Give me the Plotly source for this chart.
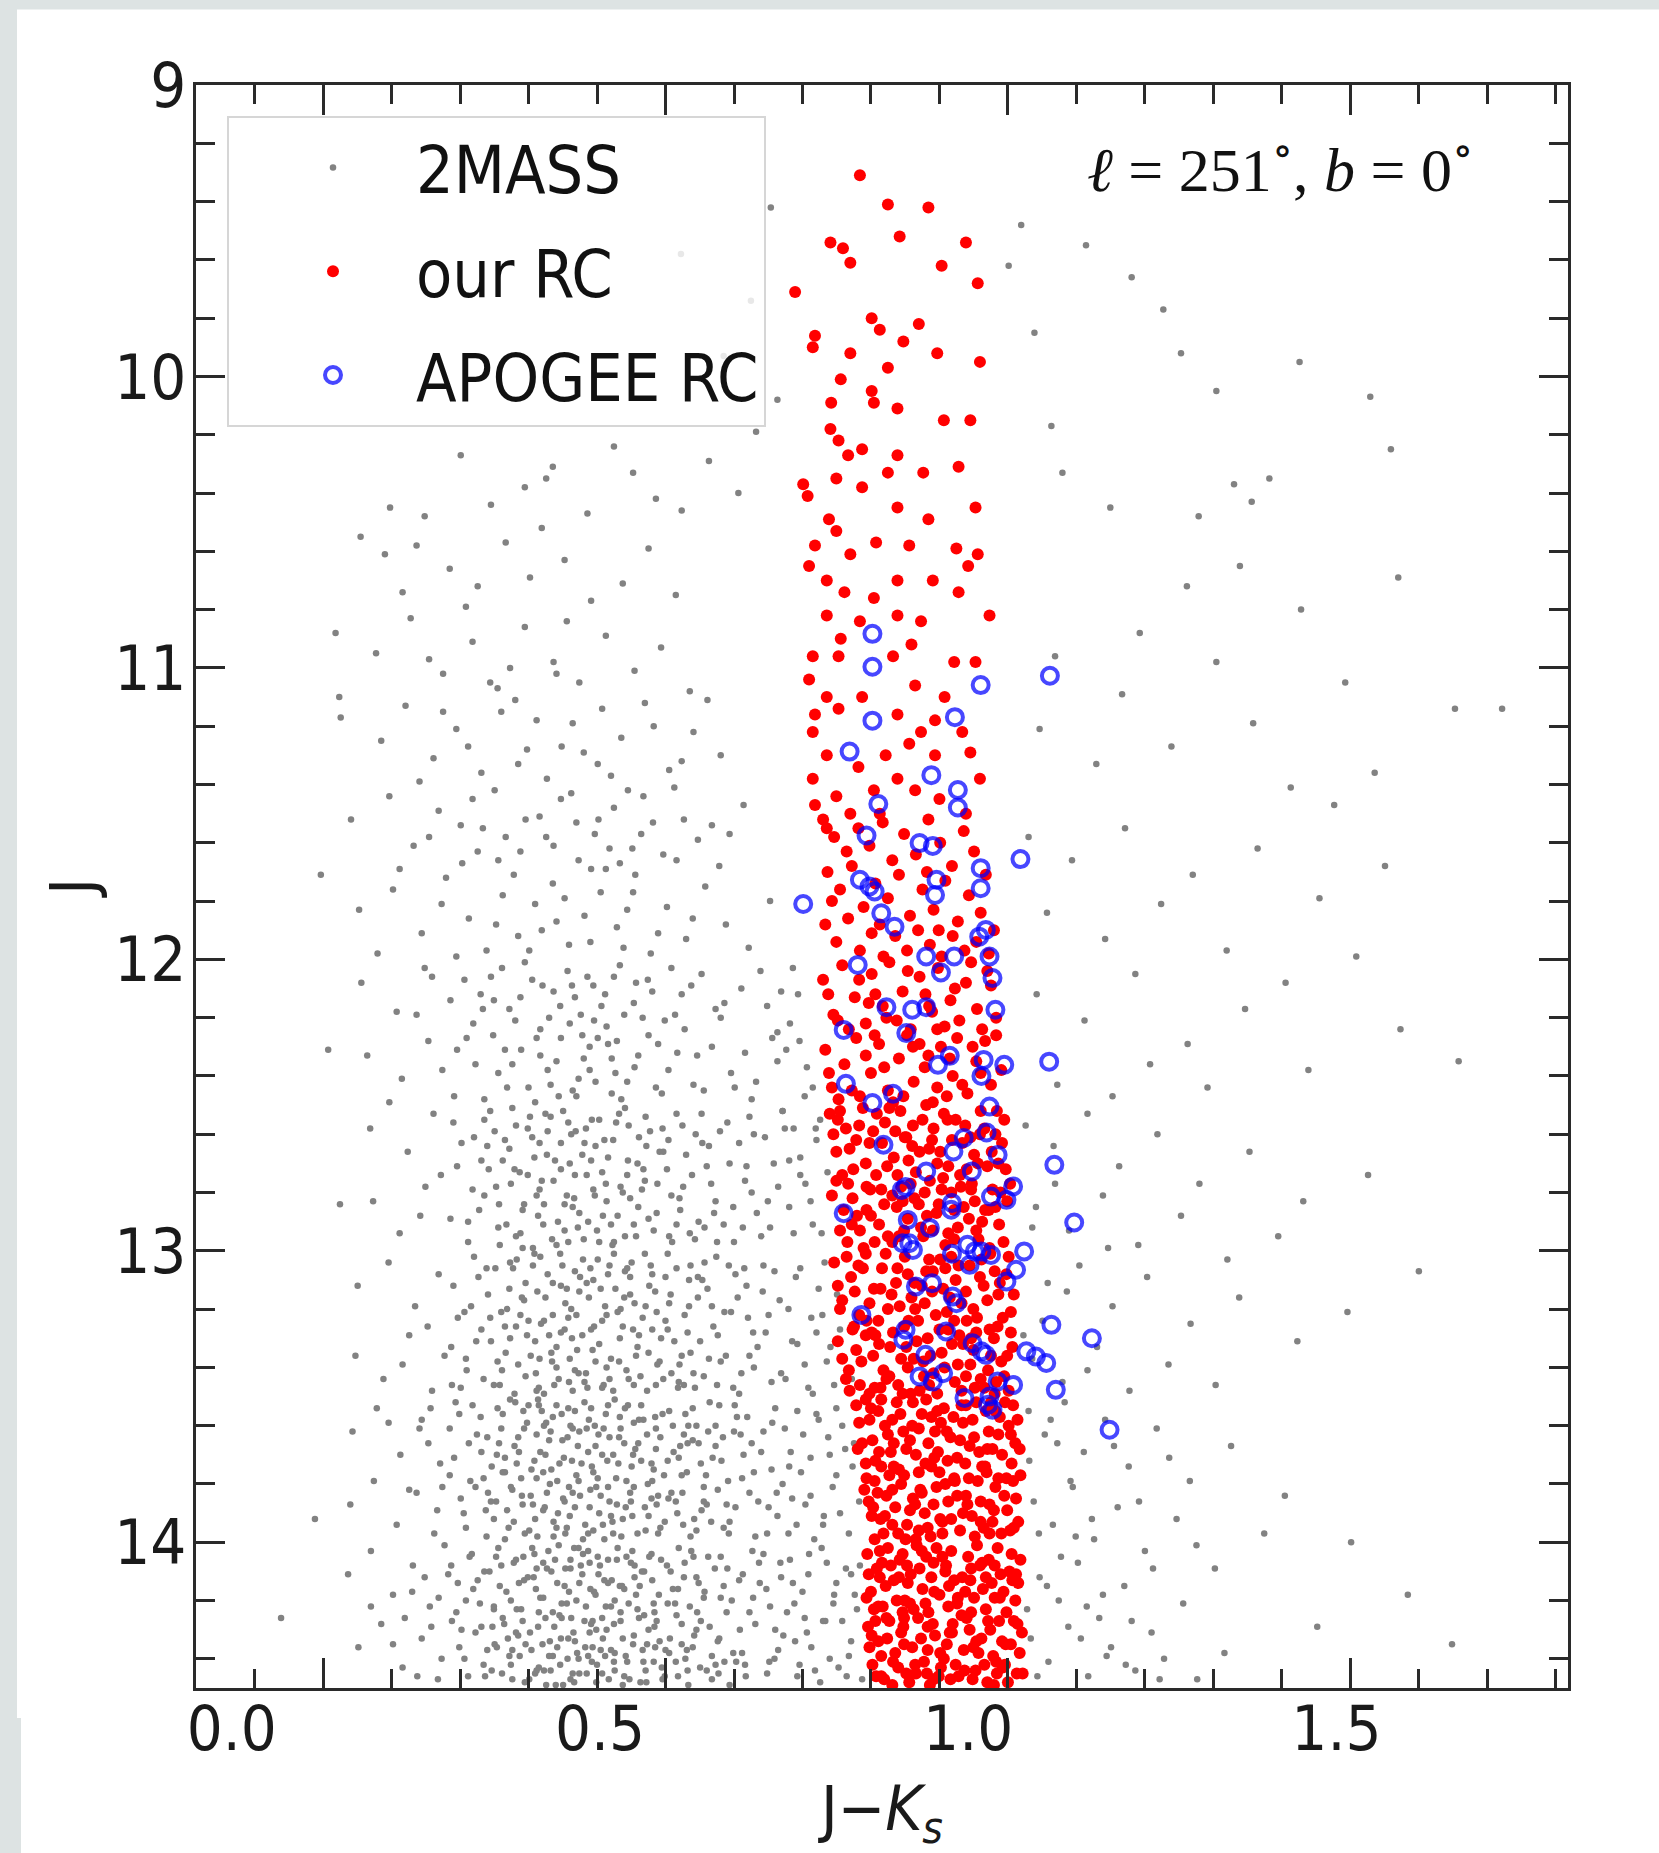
import plotly.graph_objects as go

# ---------------- data ----------------
# 2MASS field stars: (J-Ks, J)
GRAY_2MASS = [
    # upper, left of RC
    (0.215,10.45),(0.427,10.35),(0.436,10.31),(0.311,10.27),(0.519,10.24),(0.576,10.42),(0.648,10.29),
    (0.712,10.19),(0.262,10.48),(0.352,10.44),(0.398,10.38),(0.483,10.47),(0.545,10.33),(0.611,10.46),
    (0.688,10.40),(0.741,10.08),(0.668,9.93),(0.705,9.74),(0.732,9.42),(0.61,9.58),
    # upper right
    (1.072,9.48),(1.222,9.66),(1.265,9.77),(1.289,9.92),(1.337,10.05),(1.409,10.35),(1.546,10.07),
    (1.574,10.25),(1.128,10.33),(1.193,10.45),(1.113,10.17),(1.361,10.37),(1.385,10.43),(1.313,10.48),
    (1.055,9.62),(1.09,9.85),(1.16,9.55),(1.45,9.95),
    # 10.5 - 11.1
    (0.175,10.55),(0.208,10.61),(0.251,10.58),(0.296,10.66),(0.334,10.72),(0.372,10.57),(0.405,10.69),
    (0.452,10.63),(0.488,10.77),(0.531,10.71),(0.566,10.59),(0.603,10.75),(0.232,10.74),(0.318,10.79),
    (0.421,10.52),
    (0.141,10.88),(0.196,10.95),(0.243,10.83),(0.287,11.02),(0.327,10.91),(0.361,11.07),(0.398,10.86),
    (0.437,10.98),(0.472,11.05),(0.508,10.89),(0.547,11.01),(0.583,10.93),(0.622,11.08),(0.268,10.97),
    (0.455,10.84),(0.378,11.0),
    # 11.0 - 11.7
    (0.148,11.17),(0.203,11.25),(0.236,11.13),(0.274,11.31),(0.305,11.21),(0.339,11.36),(0.366,11.15),
    (0.401,11.28),(0.428,11.38),(0.463,11.19),(0.497,11.33),(0.529,11.24),(0.561,11.12),(0.594,11.35),
    (0.627,11.22),(0.664,11.3),(0.255,11.39),(0.385,11.11),(0.515,11.37),(0.448,11.27),
    (0.162,11.52),(0.214,11.44),(0.247,11.61),(0.281,11.49),(0.313,11.67),(0.341,11.55),(0.357,11.42),
    (0.392,11.63),(0.418,11.51),(0.447,11.45),(0.471,11.66),(0.493,11.57),(0.519,11.48),(0.544,11.62),
    (0.572,11.53),(0.601,11.41),(0.633,11.59),(0.662,11.68),(0.695,11.47),(0.228,11.69),(0.372,11.58),
    (0.508,11.69),(0.586,11.64),
    (0.287,11.15),(0.321,11.27),(0.351,11.05),(0.389,11.33),(0.414,11.18),(0.441,11.02),(0.478,11.29),
    (0.503,11.14),(0.538,11.42),(0.573,11.2),(0.611,11.32),(0.646,11.11),(0.268,11.58),(0.327,11.45),
    (0.362,11.66),(0.399,11.52),(0.437,11.61),(0.461,11.43),(0.498,11.52),(0.527,11.67),(0.559,11.44),
    (0.614,11.52),(0.676,11.57),
    # 11.7 - 12.0
    (0.173,11.83),(0.219,11.76),(0.258,11.91),(0.291,11.72),(0.322,11.86),(0.346,11.97),(0.368,11.78),
    (0.389,11.92),(0.412,11.81),(0.436,11.74),(0.458,11.95),(0.479,11.85),(0.501,11.77),(0.523,11.89),
    (0.548,11.71),(0.569,11.98),(0.591,11.82),(0.617,11.93),(0.643,11.75),(0.671,11.88),(0.702,11.96),
    (0.731,11.8),(0.305,11.99),(0.441,11.87),(0.532,11.96),
    (0.334,11.63),(0.359,11.88),(0.383,11.71),(0.404,11.97),(0.427,11.58),(0.452,11.79),(0.468,11.53),
    (0.487,11.94),(0.513,11.62),(0.537,11.83),(0.556,11.57),(0.579,11.91),(0.604,11.66),(0.626,11.86),
    (0.652,11.54),(0.285,11.81),(0.311,11.54),(0.488,11.69),(0.545,11.77),(0.421,11.9),(0.198,11.98),
    # 12.0 - 12.5
    (0.176,12.08),(0.224,12.18),(0.262,12.03),(0.297,12.14),(0.328,12.22),(0.352,12.06),(0.377,12.17),
    (0.398,12.01),(0.419,12.24),(0.437,12.11),(0.456,12.04),(0.474,12.19),(0.491,12.09),(0.509,12.23),
    (0.527,12.02),(0.546,12.15),(0.565,12.07),(0.588,12.21),(0.611,12.12),(0.638,12.05),(0.664,12.2),
    (0.692,12.1),(0.727,12.16),(0.762,12.03),(0.316,12.07),(0.466,12.13),(0.502,12.16),(0.758,12.22),
    (0.184,12.33),(0.231,12.41),(0.267,12.28),(0.302,12.47),(0.331,12.36),(0.355,12.26),(0.374,12.44),
    (0.393,12.31),(0.412,12.49),(0.429,12.38),(0.447,12.27),(0.463,12.45),(0.478,12.34),(0.494,12.42),
    (0.511,12.29),(0.529,12.48),(0.547,12.37),(0.566,12.26),(0.584,12.46),(0.605,12.32),(0.627,12.43),
    (0.652,12.3),(0.678,12.39),(0.706,12.48),(0.741,12.35),(0.771,12.28),(0.789,12.44),(0.486,12.3),
    (0.521,12.39),(0.343,12.48),(0.419,12.33),
    (0.319,12.27),(0.338,12.12),(0.362,12.39),(0.385,12.21),(0.403,12.44),(0.422,12.09),(0.441,12.35),
    (0.459,12.22),(0.471,12.41),(0.483,12.06),(0.497,12.27),(0.516,12.46),(0.533,12.19),(0.552,12.33),
    (0.571,12.11),(0.593,12.38),(0.615,12.24),(0.641,12.45),(0.669,12.15),(0.697,12.32),(0.718,12.04),
    (0.734,12.27),(0.286,12.38),(0.251,12.19),(0.444,12.47),(0.507,12.12),(0.537,12.42),(0.579,12.29),
    (0.624,12.09),(0.476,12.26),(0.392,12.13),(0.431,12.2),(0.516,12.34),(0.683,12.44),(0.367,12.03),
    (0.272,12.06),(0.306,12.31),(0.341,12.17),(0.371,12.31),(0.408,12.07),(0.433,12.43),(0.462,12.09),
    (0.486,12.38),(0.519,12.06),(0.558,12.2),(0.597,12.03),(0.632,12.33),(0.657,12.17),(0.712,12.42),
    (0.746,12.11),(0.214,12.49),
    (0.356,12.14),(0.381,12.36),(0.414,12.27),(0.446,12.16),(0.468,12.47),(0.492,12.21),(0.523,12.28),
    (0.549,12.08),(0.576,12.44),(0.602,12.19),
    # 12.5 - 13.0
    (0.188,12.58),(0.239,12.66),(0.274,12.53),(0.306,12.71),(0.329,12.61),(0.351,12.52),(0.368,12.69),
    (0.386,12.57),(0.402,12.74),(0.418,12.63),(0.433,12.54),(0.447,12.72),(0.461,12.6),(0.476,12.67),
    (0.489,12.55),(0.503,12.73),(0.518,12.62),(0.534,12.51),(0.551,12.7),(0.568,12.59),(0.586,12.66),
    (0.604,12.53),(0.625,12.74),(0.648,12.64),(0.673,12.56),(0.699,12.71),(0.724,12.61),(0.748,12.52),
    (0.772,12.68),(0.793,12.58),(0.809,12.73),(0.457,12.56),(0.494,12.64),(0.411,12.68),(0.538,12.69),
    (0.381,12.51),
    (0.192,12.83),(0.228,12.94),(0.263,12.78),(0.297,12.89),(0.321,12.97),(0.343,12.81),(0.362,12.92),
    (0.379,12.77),(0.395,12.86),(0.409,12.99),(0.424,12.84),(0.437,12.76),(0.452,12.93),(0.465,12.82),
    (0.478,12.96),(0.491,12.79),(0.504,12.88),(0.517,12.98),(0.531,12.8),(0.546,12.91),(0.561,12.76),
    (0.577,12.87),(0.594,12.95),(0.613,12.78),(0.634,12.9),(0.657,12.83),(0.682,12.97),(0.706,12.8),
    (0.731,12.92),(0.757,12.85),(0.779,12.77),(0.801,12.94),(0.443,12.9),(0.472,12.87),(0.509,12.83),
    (0.386,12.95),(0.552,12.85),(0.418,12.79),
    (0.312,12.63),(0.336,12.86),(0.357,12.59),(0.373,12.91),(0.391,12.73),(0.405,12.54),(0.416,12.88),
    (0.428,12.67),(0.441,12.98),(0.455,12.81),(0.467,12.59),(0.482,12.74),(0.496,12.93),(0.511,12.68),
    (0.524,12.88),(0.539,12.57),(0.557,12.79),(0.573,12.93),(0.591,12.72),(0.609,12.86),(0.63,12.6),
    (0.651,12.77),(0.668,12.91),(0.689,12.63),(0.713,12.87),(0.736,12.7),(0.763,12.94),(0.284,12.74),
    (0.256,12.88),(0.349,12.72),(0.426,12.53),(0.463,12.85),(0.499,12.55),(0.528,12.78),(0.563,12.64),
    (0.598,12.97),(0.617,12.67),(0.642,12.92),(0.395,12.99),(0.371,12.62),(0.447,12.63),(0.484,12.9),
    (0.519,12.97),(0.585,12.58),(0.703,12.54),
    (0.343,12.55),(0.359,12.78),(0.377,12.65),(0.392,12.94),(0.408,12.61),(0.421,12.76),(0.435,12.96),
    (0.45,12.52),(0.459,12.7),(0.47,12.92),(0.481,12.58),(0.493,12.81),(0.506,12.62),(0.515,12.91),
    (0.526,12.53),(0.541,12.82),(0.553,12.61),(0.566,12.89),(0.581,12.66),(0.597,12.81),(0.612,12.57),
    (0.629,12.96),(0.645,12.71),(0.663,12.59),(0.681,12.85),(0.697,12.76),(0.719,12.95),(0.327,12.79),
    (0.301,12.56),(0.364,12.98),(0.397,12.84),(0.429,12.59),(0.457,12.97),(0.488,12.69),(0.534,12.95),
    (0.559,12.72),(0.604,12.91),(0.638,12.53),(0.659,12.97),(0.742,12.78),
    (0.347,12.64),(0.363,12.84),(0.384,12.72),(0.402,12.58),(0.423,12.91),(0.439,12.69),(0.452,12.84),
    (0.466,12.74),(0.479,12.63),(0.499,12.97),(0.508,12.77),(0.522,12.56),(0.537,12.74),(0.549,12.95),
    (0.562,12.54),(0.578,12.77),(0.593,12.62),(0.608,12.82),(0.622,12.94),(0.639,12.63),(0.655,12.87),
    (0.676,12.7),(0.694,12.92),(0.709,12.6),(0.728,12.83),(0.751,12.58),(0.789,12.91),(0.321,12.9),
    (0.339,12.69),(0.414,12.81),
    # 13.0 - 13.5
    (0.171,13.12),(0.213,13.04),(0.249,13.19),(0.281,13.08),(0.307,13.23),(0.329,13.02),(0.348,13.15),
    (0.366,13.21),(0.382,13.06),(0.397,13.17),(0.411,13.01),(0.424,13.24),(0.436,13.11),(0.449,13.05),
    (0.461,13.2),(0.473,13.09),(0.485,13.16),(0.497,13.03),(0.509,13.22),(0.521,13.13),(0.534,13.07),
    (0.547,13.18),(0.561,13.01),(0.575,13.14),(0.589,13.24),(0.604,13.06),(0.621,13.19),(0.639,13.1),
    (0.658,13.02),(0.678,13.21),(0.699,13.12),(0.722,13.05),(0.744,13.17),(0.766,13.09),(0.787,13.23),
    (0.805,13.04),(0.822,13.15),(0.415,13.14),(0.455,13.13),(0.491,13.1),(0.528,13.2),(0.571,13.08),
    (0.392,13.22),(0.633,13.16),
    (0.168,13.36),(0.206,13.44),(0.241,13.29),(0.272,13.48),(0.298,13.33),(0.319,13.41),(0.339,13.27),
    (0.356,13.46),(0.372,13.35),(0.386,13.26),(0.399,13.43),(0.412,13.31),(0.424,13.49),(0.435,13.38),
    (0.447,13.28),(0.458,13.45),(0.469,13.34),(0.481,13.42),(0.492,13.26),(0.503,13.47),(0.515,13.37),
    (0.527,13.3),(0.539,13.44),(0.551,13.33),(0.564,13.48),(0.578,13.39),(0.592,13.27),(0.607,13.45),
    (0.623,13.35),(0.641,13.43),(0.66,13.29),(0.681,13.47),(0.703,13.36),(0.725,13.28),(0.746,13.42),
    (0.768,13.32),(0.789,13.49),(0.808,13.38),(0.826,13.27),(0.842,13.44),(0.441,13.4),(0.476,13.29),
    (0.509,13.4),(0.545,13.27),(0.586,13.44),(0.367,13.41),(0.418,13.37),(0.463,13.48),
    (0.301,13.12),(0.318,13.37),(0.335,13.09),(0.352,13.31),(0.364,13.46),(0.377,13.13),(0.389,13.39),
    (0.403,13.24),(0.417,13.47),(0.429,13.08),(0.441,13.33),(0.453,13.18),(0.466,13.41),(0.477,13.03),
    (0.488,13.27),(0.501,13.13),(0.513,13.44),(0.524,13.21),(0.537,13.06),(0.549,13.36),(0.562,13.19),
    (0.576,13.46),(0.589,13.09),(0.601,13.31),(0.615,13.22),(0.629,13.47),(0.646,13.13),(0.664,13.38),
    (0.684,13.08),(0.708,13.28),(0.733,13.45),(0.756,13.2),(0.778,13.39),(0.797,13.13),(0.813,13.33),
    (0.266,13.26),(0.232,13.39),(0.378,13.3),(0.409,13.05),(0.436,13.22),(0.462,13.3),(0.494,13.38),
    (0.519,13.01),(0.541,13.15),(0.566,13.35),(0.597,13.42),(0.623,13.05),(0.654,13.26),(0.692,13.42),
    (0.721,13.14),(0.483,13.47),(0.444,13.44),(0.399,13.11),(0.555,13.43),(0.611,13.36),
    (0.325,13.19),(0.342,13.44),(0.358,13.06),(0.371,13.26),(0.384,13.49),(0.394,13.16),(0.406,13.36),
    (0.419,13.02),(0.431,13.29),(0.438,13.46),(0.447,13.12),(0.459,13.37),(0.468,13.22),(0.479,13.45),
    (0.487,13.06),(0.499,13.32),(0.507,13.19),(0.518,13.48),(0.531,13.26),(0.543,13.04),(0.553,13.29),
    (0.567,13.12),(0.581,13.38),(0.594,13.18),(0.606,13.47),(0.619,13.28),(0.633,13.09),(0.648,13.37),
    (0.669,13.21),(0.689,13.49),(0.714,13.33),(0.737,13.07),(0.761,13.31),(0.783,13.47),(0.802,13.22),
    (0.289,13.36),(0.311,13.47),(0.351,13.23),(0.378,13.04),(0.413,13.42),(0.452,13.27),(0.472,13.14),
    (0.511,13.08),(0.536,13.41),(0.571,13.27),(0.592,13.01),(0.627,13.42),(0.675,13.05),(0.701,13.23),
    (0.659,13.46),
    (0.332,13.31),(0.346,13.06),(0.361,13.38),(0.374,13.2),(0.387,13.03),(0.401,13.29),(0.414,13.48),
    (0.426,13.16),(0.434,13.35),(0.446,13.01),(0.457,13.23),(0.471,13.42),(0.482,13.11),(0.49,13.34),
    (0.503,13.24),(0.513,13.05),(0.526,13.38),(0.533,13.16),(0.546,13.46),(0.558,13.23),(0.569,13.05),
    (0.583,13.3),(0.596,13.15),(0.608,13.39),(0.621,13.1),(0.636,13.31),(0.652,13.19),(0.671,13.36),
    (0.687,13.16),(0.709,13.4),(0.729,13.22),(0.752,13.44),(0.772,13.06),(0.794,13.28),(0.316,13.21),
    (0.299,13.46),(0.42,13.25),(0.466,13.07),(0.505,13.46),(0.541,13.09),(0.577,13.21),(0.614,13.46),
    (0.642,13.04),(0.696,13.06),(0.818,13.46),
    # 13.5 - 14.0
    (0.164,13.62),(0.197,13.54),(0.229,13.7),(0.258,13.58),(0.283,13.73),(0.304,13.52),(0.322,13.66),
    (0.338,13.57),(0.353,13.74),(0.366,13.61),(0.378,13.51),(0.39,13.69),(0.401,13.59),(0.411,13.72),
    (0.421,13.55),(0.431,13.65),(0.441,13.53),(0.451,13.71),(0.46,13.6),(0.47,13.67),(0.479,13.52),
    (0.489,13.74),(0.498,13.63),(0.508,13.56),(0.518,13.7),(0.528,13.61),(0.538,13.53),(0.548,13.68),
    (0.559,13.58),(0.57,13.73),(0.582,13.64),(0.594,13.55),(0.607,13.71),(0.62,13.6),(0.634,13.66),
    (0.649,13.52),(0.665,13.72),(0.682,13.62),(0.7,13.57),(0.719,13.69),(0.738,13.54),(0.757,13.74),
    (0.776,13.63),(0.794,13.56),(0.812,13.7),(0.829,13.6),(0.845,13.66),(0.396,13.55),(0.426,13.7),
    (0.456,13.64),(0.485,13.58),(0.513,13.64),(0.543,13.74),(0.575,13.57),(0.614,13.63),(0.657,13.6),
    (0.347,13.64),(0.371,13.71),
    (0.161,13.87),(0.193,13.79),(0.224,13.94),(0.251,13.83),(0.275,13.97),(0.296,13.77),(0.315,13.9),
    (0.331,13.81),(0.346,13.98),(0.359,13.86),(0.371,13.76),(0.383,13.93),(0.394,13.84),(0.404,13.96),
    (0.414,13.78),(0.423,13.89),(0.432,13.8),(0.441,13.95),(0.45,13.85),(0.459,13.91),(0.468,13.77),
    (0.477,13.99),(0.486,13.88),(0.495,13.81),(0.504,13.94),(0.513,13.86),(0.522,13.78),(0.531,13.92),
    (0.541,13.83),(0.551,13.97),(0.561,13.88),(0.571,13.79),(0.582,13.95),(0.593,13.85),(0.605,13.9),
    (0.618,13.76),(0.631,13.96),(0.645,13.87),(0.66,13.82),(0.676,13.93),(0.693,13.78),(0.711,13.98),
    (0.729,13.88),(0.748,13.8),(0.767,13.94),(0.786,13.84),(0.804,13.91),(0.821,13.77),(0.838,13.97),
    (0.852,13.86),(0.409,13.87),(0.437,13.98),(0.463,13.83),(0.491,13.76),(0.518,13.97),(0.546,13.81),
    (0.577,13.87),(0.612,13.83),(0.638,13.89),(0.381,13.82),(0.499,13.9),
    (0.296,13.61),(0.311,13.85),(0.327,13.53),(0.342,13.78),(0.356,13.92),(0.368,13.56),(0.379,13.81),
    (0.389,13.64),(0.398,13.97),(0.407,13.75),(0.416,13.51),(0.425,13.88),(0.433,13.62),(0.442,13.79),
    (0.448,13.56),(0.455,13.95),(0.462,13.72),(0.473,13.84),(0.482,13.61),(0.491,13.96),(0.503,13.7),
    (0.511,13.53),(0.523,13.87),(0.533,13.66),(0.544,13.91),(0.553,13.58),(0.565,13.8),(0.576,13.68),
    (0.588,13.93),(0.599,13.6),(0.611,13.77),(0.626,13.54),(0.641,13.86),(0.653,13.71),(0.668,13.95),
    (0.686,13.57),(0.703,13.83),(0.722,13.62),(0.741,13.91),(0.759,13.69),(0.779,13.87),(0.797,13.58),
    (0.816,13.81),(0.833,13.68),(0.267,13.66),(0.241,13.82),(0.213,13.59),(0.36,13.7),(0.385,13.52),
    (0.414,13.63),(0.437,13.93),(0.466,13.55),(0.487,13.82),(0.506,13.99),(0.527,13.57),(0.556,13.72),
    (0.579,13.97),(0.603,13.86),(0.619,13.66),(0.647,13.62),(0.674,13.79),(0.695,13.7),(0.733,13.75),
    (0.768,13.55),(0.803,13.94),(0.345,13.89),(0.371,13.99),(0.423,13.76),(0.452,13.86),(0.494,13.67),
    (0.536,13.79),(0.564,13.63),(0.592,13.72),(0.628,13.92),(0.662,13.53),
    (0.302,13.71),(0.318,13.95),(0.333,13.63),(0.348,13.83),(0.361,13.54),(0.374,13.89),(0.384,13.67),
    (0.393,13.78),(0.403,13.53),(0.412,13.92),(0.419,13.69),(0.428,13.83),(0.436,13.57),(0.445,13.73),
    (0.453,13.97),(0.463,13.61),(0.471,13.79),(0.48,13.94),(0.488,13.54),(0.497,13.78),(0.505,13.61),
    (0.515,13.91),(0.525,13.73),(0.534,13.54),(0.542,13.86),(0.552,13.66),(0.562,13.96),(0.573,13.75),
    (0.585,13.56),(0.597,13.83),(0.609,13.67),(0.623,13.98),(0.637,13.73),(0.651,13.93),(0.667,13.64),
    (0.684,13.88),(0.706,13.66),(0.727,13.97),(0.751,13.61),(0.773,13.76),(0.791,13.99),(0.81,13.64),
    (0.826,13.9),(0.843,13.74),(0.279,13.89),(0.255,13.61),(0.368,13.76),(0.395,13.87),(0.427,13.59),
    (0.458,13.81),(0.484,13.69),(0.511,13.81),(0.546,13.59),(0.579,13.84),(0.616,13.56),(0.644,13.77),
    (0.675,13.97),(0.715,13.86),(0.761,13.85),(0.52,13.51),
    (0.309,13.56),(0.324,13.79),(0.339,13.69),(0.352,13.86),(0.363,13.66),(0.376,13.95),(0.387,13.73),
    (0.397,13.61),(0.406,13.84),(0.415,13.98),(0.424,13.6),(0.434,13.75),(0.443,13.9),(0.449,13.65),
    (0.457,13.54),(0.466,13.88),(0.475,13.73),(0.484,13.97),(0.493,13.6),(0.501,13.84),(0.51,13.72),
    (0.517,13.93),(0.526,13.64),(0.535,13.88),(0.545,13.7),(0.556,13.53),(0.566,13.91),(0.576,13.61),
    (0.587,13.77),(0.6,13.69),(0.613,13.94),(0.626,13.65),(0.641,13.81),(0.657,13.67),(0.672,13.87),
    (0.691,13.63),(0.709,13.76),(0.734,13.59),(0.756,13.97),(0.786,13.71),(0.821,13.54),(0.286,13.81),
    (0.27,13.54),(0.417,13.53),(0.472,13.62),(0.529,13.98),(0.57,13.85),(0.631,13.6),(0.683,13.53),
    (0.74,13.83),
    # 14.0 - 14.5
    (0.158,14.11),(0.189,14.03),(0.219,14.18),(0.246,14.08),(0.269,14.22),(0.289,14.01),(0.307,14.14),
    (0.323,14.05),(0.337,14.21),(0.35,14.1),(0.362,14.02),(0.373,14.17),(0.383,14.07),(0.393,14.23),
    (0.402,14.12),(0.411,14.04),(0.419,14.19),(0.428,14.09),(0.436,14.24),(0.444,14.01),(0.452,14.15),
    (0.46,14.06),(0.468,14.2),(0.476,14.11),(0.484,14.03),(0.492,14.17),(0.5,14.08),(0.508,14.22),
    (0.516,14.13),(0.524,14.02),(0.533,14.16),(0.542,14.07),(0.551,14.23),(0.56,14.1),(0.57,14.04),
    (0.58,14.18),(0.591,14.08),(0.602,14.21),(0.614,14.12),(0.627,14.05),(0.641,14.19),(0.656,14.09),
    (0.672,14.24),(0.689,14.13),(0.707,14.03),(0.726,14.16),(0.745,14.07),(0.764,14.21),(0.783,14.11),
    (0.801,14.02),(0.818,14.18),(0.834,14.09),(0.849,14.23),(0.397,14.13),(0.423,14.07),(0.448,14.21),
    (0.472,14.14),(0.497,14.05),(0.52,14.2),(0.547,14.12),(0.574,14.24),(0.607,14.02),(0.634,14.14),
    (0.664,14.05),(0.356,14.23),(0.465,14.02),
    (0.172,14.36),(0.203,14.28),(0.232,14.43),(0.258,14.33),(0.28,14.47),(0.299,14.27),(0.316,14.4),
    (0.331,14.31),(0.344,14.46),(0.357,14.35),(0.368,14.26),(0.379,14.42),(0.389,14.32),(0.398,14.48),
    (0.407,14.37),(0.416,14.29),(0.424,14.44),(0.432,14.34),(0.44,14.49),(0.448,14.26),(0.456,14.4),
    (0.464,14.31),(0.472,14.45),(0.48,14.36),(0.488,14.28),(0.496,14.42),(0.504,14.33),(0.512,14.47),
    (0.52,14.38),(0.528,14.27),(0.537,14.41),(0.546,14.32),(0.555,14.48),(0.564,14.35),(0.574,14.29),
    (0.584,14.43),(0.595,14.33),(0.606,14.46),(0.618,14.37),(0.631,14.3),(0.645,14.44),(0.66,14.34),
    (0.676,14.49),(0.693,14.38),(0.711,14.28),(0.73,14.41),(0.749,14.32),(0.768,14.46),(0.787,14.36),
    (0.806,14.27),(0.824,14.43),(0.841,14.34),(0.856,14.47),(0.412,14.45),(0.436,14.39),(0.46,14.47),
    (0.484,14.39),(0.509,14.3),(0.533,14.46),(0.559,14.41),(0.589,14.37),(0.62,14.49),(0.652,14.39),
    (0.381,14.37),(0.501,14.37),
    (0.294,14.11),(0.309,14.36),(0.326,14.04),(0.339,14.29),(0.353,14.44),(0.364,14.15),(0.375,14.33),
    (0.386,14.06),(0.395,14.27),(0.404,14.47),(0.413,14.16),(0.422,14.35),(0.43,14.03),(0.438,14.29),
    (0.446,14.42),(0.453,14.09),(0.461,14.26),(0.469,14.38),(0.477,14.04),(0.486,14.31),(0.494,14.18),
    (0.503,14.45),(0.511,14.06),(0.519,14.28),(0.527,14.15),(0.535,14.39),(0.544,14.03),(0.553,14.26),
    (0.562,14.44),(0.571,14.13),(0.581,14.34),(0.592,14.21),(0.603,14.41),(0.615,14.07),(0.628,14.32),
    (0.642,14.17),(0.657,14.42),(0.673,14.09),(0.69,14.3),(0.708,14.19),(0.727,14.45),(0.746,14.12),
    (0.765,14.34),(0.784,14.04),(0.803,14.27),(0.821,14.14),(0.838,14.39),(0.853,14.08),(0.271,14.29),
    (0.245,14.17),(0.219,14.35),(0.189,14.22),(0.318,14.2),(0.343,14.1),(0.367,14.45),(0.391,14.39),
    (0.417,14.24),(0.442,14.14),(0.465,14.48),(0.489,14.41),(0.515,14.37),(0.539,14.21),(0.566,14.3),
    (0.596,14.1),(0.622,14.22),(0.649,14.29),(0.681,14.38),(0.716,14.07),(0.754,14.24),(0.792,14.44),
    (0.829,14.27),(0.379,14.2),(0.433,14.44),(0.457,14.33),(0.481,14.22),(0.506,14.13),(0.531,14.49),
    (0.557,14.1),(0.585,14.47),(0.611,14.28),(0.636,14.43),(0.664,14.19),(0.698,14.46),(0.738,14.3),
    (0.775,14.17),
    (0.305,14.24),(0.321,14.46),(0.334,14.13),(0.347,14.37),(0.359,14.05),(0.37,14.28),(0.381,14.47),
    (0.39,14.14),(0.399,14.35),(0.408,14.02),(0.417,14.43),(0.426,14.26),(0.434,14.1),(0.442,14.36),
    (0.45,14.49),(0.458,14.17),(0.466,14.34),(0.474,14.08),(0.482,14.45),(0.49,14.27),(0.498,14.11),
    (0.507,14.39),(0.515,14.22),(0.523,14.06),(0.531,14.33),(0.54,14.47),(0.549,14.18),(0.558,14.37),
    (0.567,14.05),(0.577,14.27),(0.588,14.46),(0.599,14.16),(0.611,14.35),(0.624,14.03),(0.637,14.27),
    (0.652,14.47),(0.668,14.15),(0.685,14.41),(0.703,14.24),(0.722,14.04),(0.742,14.37),(0.762,14.14),
    (0.781,14.31),(0.799,14.48),(0.817,14.21),(0.835,14.46),(0.285,14.4),(0.262,14.12),(0.235,14.26),
    (0.356,14.22),(0.386,14.31),(0.414,14.09),(0.445,14.25),(0.471,14.4),(0.495,14.3),(0.52,14.44),
    (0.547,14.08),(0.573,14.41),(0.604,14.25),(0.631,14.12),(0.661,14.45),(0.694,14.11),(0.731,14.22),
    (0.771,14.42),(0.808,14.07),(0.846,14.18),(0.486,14.07),(0.427,14.49),(0.56,14.25),(0.616,14.4),
    (0.312,14.3),(0.328,14.16),(0.342,14.42),(0.354,14.29),(0.366,14.08),(0.377,14.39),(0.387,14.23),
    (0.396,14.05),(0.405,14.31),(0.414,14.44),(0.423,14.19),(0.431,14.39),(0.439,14.06),(0.447,14.33),
    (0.455,14.21),(0.463,14.45),(0.471,14.02),(0.479,14.27),(0.487,14.16),(0.495,14.48),(0.503,14.26),
    (0.511,14.14),(0.519,14.41),(0.528,14.24),(0.536,14.05),(0.545,14.35),(0.554,14.15),(0.563,14.48),
    (0.573,14.21),(0.583,14.06),(0.594,14.38),(0.606,14.16),(0.619,14.44),(0.632,14.24),(0.647,14.05),
    (0.662,14.33),(0.679,14.2),(0.697,14.42),(0.717,14.14),(0.737,14.4),(0.758,14.06),(0.778,14.26),
    (0.812,14.4),(0.841,14.11),(0.298,14.08),(0.281,14.19),(0.252,14.46),(0.36,14.36),(0.41,14.12),
    (0.46,14.09),(0.49,14.36),(0.53,14.15),(0.575,14.36),(0.626,14.36),(0.669,14.41),
    # isolated blue-side stars
    (0.067,14.26),(0.113,13.92),(0.131,12.31),(0.121,11.71),(0.146,11.1),(0.147,12.84),
    # gray clump between dwarfs and RC
    (0.741,12.25),(0.753,12.31),(0.769,12.12),(0.781,12.37),(0.748,12.52),(0.763,12.58),(0.778,12.47),
    (0.794,12.62),(0.757,12.69),(0.772,12.74),(0.786,12.83),(0.799,12.55),
    # right of RC
    (1.369,10.65),(1.297,10.72),(1.452,10.8),(1.584,10.69),(1.233,10.88),(1.118,10.96),(1.661,11.14),
    (1.512,11.05),(1.387,11.19),(1.276,11.27),(1.174,11.33),(1.438,11.41),(1.209,11.09),(1.097,11.21),
    (1.337,10.98),(1.552,11.36),(1.725,11.14),(1.497,11.47),
    (1.082,11.58),(1.141,11.66),(1.213,11.55),(1.305,11.71),(1.393,11.62),(1.477,11.79),(1.566,11.68),
    (1.107,11.84),(1.186,11.93),(1.262,11.81),(1.351,11.97),(1.431,12.08),(1.527,11.99),(1.093,12.12),
    (1.158,12.21),(1.227,12.05),(1.298,12.29),(1.376,12.17),(1.462,12.38),(1.666,12.35),(1.121,12.43),
    (1.196,12.47),(1.247,12.36),(1.325,12.44),(1.587,12.24),
    (1.078,12.57),(1.116,12.64),(1.162,12.53),(1.205,12.71),(1.257,12.6),(1.314,12.77),(1.382,12.66),
    (1.455,12.83),(1.543,12.74),(1.092,12.85),(1.137,12.93),(1.183,12.81),(1.231,12.98),(1.289,12.88),
    (1.352,13.03),(1.421,12.95),(1.108,13.11),(1.151,13.05),(1.196,13.19),(1.243,13.09),(1.302,13.25),
    (1.368,13.16),(1.447,13.31),(1.087,13.37),(1.128,13.45),(1.175,13.33),(1.219,13.48),(1.272,13.39),
    (1.336,13.46),(1.515,13.21),(1.612,13.07),
    (1.082,13.55),(1.104,13.63),(1.131,13.52),(1.157,13.69),(1.186,13.58),(1.218,13.74),(1.256,13.61),
    (1.301,13.79),(1.357,13.67),(1.43,13.84),(1.089,13.86),(1.115,13.94),(1.142,13.81),(1.171,13.99),
    (1.203,13.88),(1.24,14.03),(1.283,13.92),(1.335,14.09),(1.402,13.97),(1.097,14.12),(1.123,14.2),
    (1.149,14.07),(1.178,14.26),(1.212,14.15),(1.249,14.31),(1.292,14.21),(1.348,14.38),(1.597,14.18),
    (1.085,14.33),(1.109,14.41),(1.136,14.29),(1.163,14.46),(1.194,14.36),(1.227,14.44),(1.266,14.4),
    (1.311,14.47),(1.657,14.35),(1.52,14.0),(1.474,14.29),
    (1.083,13.72),(1.096,13.97),(1.112,13.58),(1.126,14.05),(1.139,13.79),(1.153,14.33),(1.168,13.92),
    (1.183,14.18),(1.198,13.67),(1.214,14.42),(1.232,13.86),(1.251,14.09),(1.273,13.71),(1.08,14.23),
    (1.094,14.46),(1.107,14.15),(1.121,13.66),(1.146,13.98),(1.161,14.22),(1.188,14.39),(1.222,14.27),
    (1.26,14.47),(1.31,14.01),(1.087,12.92),(1.101,13.24),(1.118,12.77),(1.134,13.14),(1.162,13.41),
    (1.19,12.99),(1.075,13.29),
]

# our red-clump sample: (J-Ks, J)
RED_RC = [
    (0.853,9.31),(0.891,9.41),(0.946,9.42),(0.907,9.52),(0.997,9.54),(0.765,9.71),(0.813,9.54),
    (0.830,9.56),(0.840,9.61),(0.964,9.62),(1.013,9.68),(0.792,9.86),(0.789,9.90),(0.869,9.80),
    (0.880,9.84),(0.912,9.88),(0.933,9.82),(0.840,9.92),(0.891,9.97),(0.958,9.92),(1.016,9.95),
    (0.827,10.01),(0.869,10.05),(0.814,10.09),(0.872,10.09),(0.904,10.11),(0.967,10.15),(1.003,10.15),
    (0.813,10.18),(0.824,10.22),(0.837,10.27),(0.856,10.25),(0.904,10.27),(0.776,10.37),(0.782,10.41),
    (0.821,10.35),(0.856,10.38),(0.891,10.33),(0.939,10.33),(0.987,10.31),(0.811,10.49),(0.821,10.53),
    (0.904,10.45),(0.946,10.49),(1.010,10.45),(0.792,10.58),
    (0.840,10.61),(0.875,10.57),(0.920,10.58),(0.984,10.59),(1.000,10.65),(1.013,10.61),(0.784,10.65),
    (0.808,10.70),(0.904,10.70),(0.952,10.70),(0.832,10.74),(0.872,10.76),(0.987,10.74),(1.029,10.82),
    (0.808,10.82),(0.827,10.90),(0.853,10.84),(0.904,10.82),(0.936,10.84),(0.923,10.92),(0.789,10.96),
    (0.824,10.96),(0.898,10.96),(0.981,10.98),(1.010,10.98),
    (0.784,11.04),(0.808,11.10),(0.856,11.10),(0.928,11.06),(0.792,11.16),(0.824,11.14),(0.904,11.16),
    (0.955,11.18),(0.936,11.22),(0.968,11.10),(0.789,11.22),(0.808,11.30),(0.851,11.34),(0.888,11.30),
    (0.920,11.26),(0.955,11.30),(0.992,11.22),(1.003,11.29),(0.789,11.38),(0.821,11.44),(0.872,11.42),
    (0.904,11.38),(0.928,11.42),(1.016,11.38),(0.997,11.50),(0.808,11.55),(0.840,11.50),(0.880,11.50),
    (0.792,11.47),(0.961,11.45),
    (0.803,11.52),(0.818,11.58),(0.835,11.63),(0.851,11.55),(0.866,11.61),(0.884,11.53),(0.897,11.66),
    (0.913,11.57),(0.929,11.64),(0.946,11.52),(0.962,11.6),(0.978,11.68),(0.994,11.56),(1.008,11.63),
    (1.024,11.71),(0.809,11.7),(0.826,11.76),(0.842,11.68),(0.858,11.82),(0.874,11.74),(0.891,11.79),
    (0.906,11.71),(0.921,11.85),(0.938,11.76),(0.953,11.83),(0.969,11.73),(0.986,11.87),(1.001,11.78),
    (1.017,11.84),(1.035,11.9),(0.806,11.88),(0.821,11.94),(0.837,11.86),(0.853,11.97),(0.869,11.91),
    (0.885,11.99),(0.901,11.92),(0.917,11.97),(0.932,11.9),(0.948,11.95),(0.964,11.99),(0.979,11.92),
    (0.995,11.97),(1.011,11.94),(1.028,11.98),(0.815,11.8),(0.88,11.88),(0.944,11.7),(0.96,11.9),
    # 12.0 - 12.5
    (0.803,12.07),(0.817,12.19),(0.829,12.02),(0.846,12.13),(0.861,12.22),(0.869,12.05),(0.884,12.16),
    (0.893,12.01),(0.911,12.11),(0.922,12.24),(0.934,12.06),(0.951,12.18),(0.959,12.03),(0.976,12.14),
    (0.988,12.21),(0.997,12.08),(1.012,12.17),(1.026,12.04),(1.038,12.2),(0.838,12.24),(0.874,12.12),
    (0.903,12.21),(0.942,12.12),(0.968,12.23),(1.004,12.01),
    (0.806,12.31),(0.815,12.44),(0.832,12.36),(0.848,12.27),(0.853,12.47),(0.868,12.39),(0.879,12.29),
    (0.891,12.45),(0.906,12.34),(0.917,12.26),(0.926,12.42),(0.941,12.37),(0.952,12.49),(0.963,12.3),
    (0.979,12.4),(0.985,12.27),(0.999,12.46),(1.011,12.35),(1.023,12.28),(1.031,12.43),(1.045,12.38),
    (0.824,12.48),(0.861,12.33),(0.898,12.49),(0.934,12.29),(0.971,12.47),(1.006,12.3),
    (0.81,12.12),(0.852,12.07),(0.889,12.2),(0.918,12.04),(0.947,12.16),(0.982,12.1),(1.019,12.24),
    (1.031,12.09),(0.823,12.21),(0.958,12.24),(0.865,12.15),
    (0.811,12.39),(0.842,12.45),(0.873,12.26),(0.886,12.37),(0.912,12.47),(0.946,12.33),(0.975,12.34),
    (0.992,12.43),(1.017,12.39),(1.038,12.26),(0.925,12.3),(0.958,12.44),
    # 12.5 - 13.0
    (0.812,12.53),(0.821,12.66),(0.834,12.58),(0.844,12.72),(0.857,12.51),(0.866,12.63),(0.875,12.74),
    (0.887,12.56),(0.899,12.68),(0.908,12.52),(0.916,12.61),(0.929,12.73),(0.938,12.55),(0.947,12.65),
    (0.958,12.7),(0.967,12.53),(0.978,12.62),(0.989,12.74),(0.996,12.57),(1.008,12.67),(1.017,12.52),
    (1.026,12.71),(1.037,12.6),(1.049,12.55),(0.829,12.74),(0.871,12.59),(0.919,12.69),(0.953,12.58),
    (0.998,12.72),(1.041,12.7),
    (0.817,12.6),(0.839,12.65),(0.852,12.57),(0.861,12.7),(0.883,12.63),(0.893,12.51),(0.904,12.74),
    (0.925,12.57),(0.934,12.66),(0.943,12.5),(0.962,12.66),(0.973,12.71),(0.983,12.55),(1.003,12.61),
    (1.013,12.7),(1.022,12.58),(1.032,12.66),(1.046,12.63),(0.826,12.52),(0.914,12.61),
    (0.815,12.81),(0.826,12.93),(0.837,12.77),(0.849,12.88),(0.858,12.99),(0.867,12.79),(0.879,12.91),
    (0.886,12.84),(0.897,12.97),(0.909,12.78),(0.918,12.89),(0.927,12.82),(0.939,12.95),(0.948,12.76),
    (0.957,12.87),(0.969,12.98),(0.977,12.8),(0.986,12.92),(0.994,12.85),(1.005,12.77),(1.014,12.96),
    (1.023,12.86),(1.033,12.79),(1.042,12.91),(1.053,12.83),(0.831,12.86),(0.873,12.97),(0.903,12.85),
    (0.944,12.88),(0.964,12.79),(1.001,12.89),(1.029,12.99),
    (0.821,12.76),(0.843,12.82),(0.853,12.93),(0.862,12.86),(0.882,12.79),(0.891,12.95),(0.913,12.93),
    (0.922,12.77),(0.933,12.84),(0.952,12.93),(0.96,12.84),(0.981,12.86),(0.99,12.78),(1.009,12.83),
    (1.019,12.9),(1.037,12.85),(1.048,12.97),(0.836,12.97),(0.897,12.81),(0.973,12.94),(1.057,12.77),
    (0.823,12.55),(0.848,12.62),(0.862,12.78),(0.876,12.53),(0.89,12.71),(0.901,12.59),(0.911,12.83),
    (0.924,12.64),(0.936,12.92),(0.951,12.62),(0.966,12.75),(0.981,12.96),(0.992,12.63),(1.004,12.79),
    (1.016,12.6),(1.028,12.86),(1.039,12.52),(1.051,12.72),(0.842,12.91),(0.868,12.88),(0.906,12.95),
    (0.941,12.8),(0.972,12.55),(1.011,12.93),(1.044,12.8),
    # 13.0 - 13.5
    (0.818,13.04),(0.829,13.17),(0.841,13.09),(0.852,13.22),(0.861,13.01),(0.872,13.13),(0.883,13.06),
    (0.891,13.2),(0.902,13.11),(0.914,13.02),(0.923,13.16),(0.932,13.24),(0.943,13.07),(0.951,13.14),
    (0.962,13.03),(0.971,13.21),(0.983,13.1),(0.991,13.18),(1.002,13.05),(1.012,13.23),(1.021,13.12),
    (1.03,13.01),(1.041,13.15),(1.052,13.08),(1.058,13.21),(0.846,13.14),(0.878,13.24),(0.907,13.19),
    (0.937,13.12),(0.977,13.02),(1.016,13.09),(0.956,13.22),
    (0.823,13.12),(0.835,13.02),(0.857,13.06),(0.866,13.18),(0.888,13.01),(0.896,13.15),(0.918,13.08),
    (0.928,13.2),(0.947,13.03),(0.966,13.13),(0.987,13.05),(0.997,13.14),(1.007,13.2),(1.026,13.17),
    (1.036,13.07),(1.047,13.23),(0.862,13.24),(0.919,13.24),(0.981,13.24),(1.055,13.02),(0.941,13.18),
    (0.823,13.31),(0.834,13.44),(0.843,13.27),(0.855,13.38),(0.866,13.49),(0.874,13.29),(0.885,13.41),
    (0.894,13.33),(0.905,13.46),(0.913,13.26),(0.926,13.37),(0.934,13.48),(0.945,13.3),(0.953,13.42),
    (0.964,13.35),(0.973,13.27),(0.982,13.45),(0.993,13.32),(1.003,13.39),(1.011,13.28),(1.022,13.47),
    (1.031,13.36),(1.04,13.26),(1.049,13.43),(1.06,13.33),(0.848,13.34),(0.881,13.47),(0.918,13.4),
    (0.958,13.49),(0.988,13.29),(1.027,13.41),(1.055,13.48),(0.871,13.36),
    (0.829,13.37),(0.839,13.48),(0.861,13.29),(0.879,13.32),(0.889,13.44),(0.898,13.28),(0.909,13.37),
    (0.93,13.31),(0.94,13.43),(0.949,13.36),(0.968,13.4),(0.978,13.32),(0.997,13.43),(1.007,13.34),
    (1.017,13.44),(1.035,13.3),(1.045,13.38),(1.058,13.28),(0.853,13.46),(0.922,13.49),(0.991,13.48),
    (1.036,13.49),
    (0.826,13.2),(0.838,13.41),(0.851,13.05),(0.869,13.28),(0.881,13.13),(0.893,13.43),(0.904,13.06),
    (0.916,13.33),(0.927,13.11),(0.939,13.38),(0.952,13.07),(0.961,13.27),(0.975,13.16),(0.986,13.39),
    (0.998,13.24),(1.009,13.47),(1.018,13.03),(1.029,13.27),(1.043,13.11),(1.053,13.36),(1.062,13.15),
    (0.845,13.26),(0.873,13.47),(0.911,13.49),(0.947,13.46),(0.969,13.06),(1.004,13.3),(1.038,13.45),
    # 13.5 - 14.0
    (0.848,13.53),(0.856,13.66),(0.866,13.58),(0.874,13.72),(0.882,13.51),(0.891,13.63),(0.899,13.74),
    (0.908,13.56),(0.916,13.68),(0.925,13.52),(0.933,13.61),(0.942,13.73),(0.95,13.57),(0.959,13.69),
    (0.967,13.54),(0.976,13.64),(0.985,13.71),(0.993,13.59),(1.002,13.67),(1.011,13.52),(1.019,13.74),
    (1.028,13.62),(1.037,13.55),(1.046,13.7),(1.055,13.6),(1.064,13.66),(0.861,13.73),(0.887,13.6),
    (0.921,13.65),(0.955,13.62),(0.997,13.53),(1.033,13.68),(1.061,13.53),
    (0.852,13.59),(0.861,13.51),(0.87,13.65),(0.878,13.55),(0.895,13.69),(0.903,13.52),(0.912,13.62),
    (0.929,13.7),(0.937,13.56),(0.946,13.66),(0.963,13.59),(0.972,13.72),(0.98,13.57),(0.989,13.65),
    (1.006,13.58),(1.015,13.69),(1.024,13.55),(1.041,13.63),(1.05,13.52),(1.059,13.73),(1.067,13.58),
    (0.882,13.74),(0.95,13.74),(1.023,13.74),
    (0.862,13.78),(0.869,13.91),(0.877,13.83),(0.885,13.97),(0.893,13.77),(0.901,13.88),(0.909,13.8),
    (0.917,13.94),(0.925,13.85),(0.933,13.76),(0.941,13.9),(0.949,13.98),(0.957,13.81),(0.965,13.93),
    (0.973,13.86),(0.981,13.78),(0.989,13.96),(0.997,13.84),(1.005,13.91),(1.013,13.79),(1.021,13.95),
    (1.029,13.87),(1.037,13.81),(1.045,13.97),(1.053,13.89),(1.061,13.79),(1.068,13.93),(0.873,13.99),
    (0.897,13.94),(0.929,13.99),(0.961,13.76),(0.993,13.9),(1.025,13.76),(1.049,13.84),
    (0.865,13.86),(0.873,13.79),(0.881,13.92),(0.889,13.84),(0.905,13.97),(0.913,13.77),(0.921,13.89),
    (0.937,13.83),(0.945,13.95),(0.953,13.87),(0.969,13.8),(0.977,13.92),(0.985,13.84),(1.001,13.78),
    (1.009,13.98),(1.017,13.86),(1.033,13.93),(1.041,13.78),(1.057,13.96),(1.065,13.85),(0.897,13.82),
    (0.933,13.96),(0.965,13.97),(1.029,13.97),(1.071,13.77),
    (0.85,13.68),(0.859,13.82),(0.868,13.54),(0.879,13.69),(0.887,13.91),(0.897,13.58),(0.906,13.75),
    (0.915,13.99),(0.924,13.6),(0.935,13.82),(0.943,13.51),(0.954,13.71),(0.962,13.92),(0.971,13.62),
    (0.982,13.79),(0.991,13.53),(0.999,13.87),(1.008,13.64),(1.017,13.93),(1.026,13.68),(1.035,13.89),
    (1.043,13.57),(1.052,13.78),(1.062,13.95),(1.07,13.68),(0.871,13.88),(0.899,13.66),(0.928,13.87),
    (0.958,13.55),(0.996,13.73),(1.031,13.52),(1.058,13.63),
    # 14.0 - 14.5
    (0.863,14.04),(0.868,14.17),(0.876,14.09),(0.884,14.22),(0.891,14.02),(0.899,14.13),(0.907,14.06),
    (0.914,14.2),(0.922,14.11),(0.93,14.01),(0.938,14.16),(0.946,14.24),(0.953,14.07),(0.961,14.18),
    (0.969,14.1),(0.977,14.03),(0.985,14.21),(0.992,14.12),(1.0,14.05),(1.008,14.19),(1.016,14.08),
    (1.024,14.23),(1.032,14.14),(1.04,14.02),(1.048,14.17),(1.056,14.1),(1.064,14.2),(1.071,14.06),
    (0.88,14.12),(0.911,14.24),(0.943,14.05),(0.974,14.15),(1.004,14.24),(1.036,14.08),(1.06,14.13),
    (0.865,14.11),(0.872,14.23),(0.88,14.03),(0.888,14.15),(0.903,14.2),(0.911,14.04),(0.918,14.14),
    (0.934,14.09),(0.942,14.21),(0.95,14.12),(0.965,14.05),(0.973,14.22),(0.981,14.13),(0.996,14.17),
    (1.004,14.09),(1.012,14.01),(1.028,14.06),(1.036,14.19),(1.044,14.11),(1.052,14.24),(1.068,14.14),
    (0.895,14.08),(0.926,14.23),(0.957,14.02),(1.02,14.16),
    (0.864,14.29),(0.87,14.42),(0.878,14.34),(0.886,14.47),(0.893,14.27),(0.901,14.38),(0.909,14.31),
    (0.916,14.45),(0.924,14.36),(0.932,14.26),(0.94,14.41),(0.948,14.49),(0.955,14.32),(0.963,14.43),
    (0.971,14.35),(0.979,14.28),(0.987,14.46),(0.994,14.37),(1.002,14.3),(1.01,14.44),(1.018,14.33),
    (1.026,14.48),(1.034,14.39),(1.042,14.27),(1.05,14.42),(1.058,14.35),(1.066,14.45),(1.073,14.31),
    (0.882,14.39),(0.913,14.26),(0.945,14.37),(0.976,14.47),(1.007,14.36),(1.039,14.45),(1.062,14.27),
    (0.866,14.36),(0.874,14.27),(0.882,14.46),(0.89,14.33),(0.905,14.43),(0.912,14.29),(0.92,14.48),
    (0.936,14.33),(0.944,14.45),(0.952,14.28),(0.967,14.4),(0.975,14.31),(0.983,14.42),(0.998,14.26),
    (1.006,14.47),(1.014,14.38),(1.03,14.3),(1.038,14.41),(1.046,14.34),(1.054,14.48),(1.07,14.38),
    (0.897,14.49),(0.928,14.42),(0.96,14.46),(1.022,14.42),
    (0.862,14.19),(0.869,14.32),(0.875,14.46),(0.883,14.07),(0.889,14.26),(0.898,14.41),(0.906,14.12),
    (0.913,14.35),(0.921,14.21),(0.929,14.45),(0.937,14.03),(0.945,14.29),(0.954,14.17),(0.962,14.38),
    (0.97,14.08),(0.978,14.31),(0.986,14.19),(0.995,14.44),(1.003,14.13),(1.011,14.34),(1.019,14.07),
    (1.027,14.27),(1.035,14.49),(1.043,14.19),(1.051,14.35),(1.059,14.04),(1.067,14.28),(1.074,14.45),
    (0.878,14.22),(0.917,14.08),(0.953,14.47),(0.991,14.25),(1.024,14.12),(1.047,14.43),(1.065,14.11),
]

# APOGEE red-clump stars: (J-Ks, J)
BLUE_APOGEE = [
    (0.870,10.883),(0.870,10.996),(1.111,11.027),(1.017,11.059),(0.982,11.169),(0.870,11.181),
    (0.839,11.287),(0.950,11.368),(0.986,11.419),(0.986,11.479),(0.878,11.467),(0.862,11.575),
    (0.934,11.601),(0.952,11.611),(1.071,11.656),(0.853,11.727),(0.866,11.750),(0.873,11.767),
    (0.957,11.727),(0.955,11.779),(1.017,11.687),(1.017,11.756),(0.776,11.810),(0.882,11.842),
    (0.900,11.888),(1.024,11.899),(1.015,11.922),(0.850,12.019),(0.943,11.990),(0.981,11.990),
    (1.029,11.990),(0.963,12.045),(1.033,12.064),(0.889,12.164),(0.924,12.173),(0.943,12.164),
    (1.037,12.173),(0.831,12.242),(0.916,12.253),(0.975,12.331),(0.959,12.362),(1.021,12.345),
    (1.018,12.400),(1.049,12.362),(1.110,12.351),(0.834,12.427),(0.898,12.461),(0.870,12.493),
    (1.029,12.505),(1.025,12.594),(0.994,12.613),(0.885,12.636),(0.980,12.659),(1.040,12.671),
    (1.005,12.728),(0.943,12.728),(1.117,12.705),(0.915,12.781),(0.910,12.791),(1.061,12.779),
    (1.052,12.825),(1.031,12.814),(0.978,12.836),(0.977,12.859),(0.831,12.871),(1.144,12.903),
    (0.918,12.894),(0.948,12.922),(0.911,12.974),(0.920,12.974),(0.925,12.997),(0.978,13.010),
    (0.999,12.979),(1.009,13.002),(1.018,13.002),(1.002,13.048),(1.031,13.014),(1.076,13.002),
    (1.065,13.065),(1.052,13.105),(0.929,13.122),(0.951,13.111),(0.979,13.157),(0.984,13.180),
    (0.855,13.220),(0.915,13.271),(0.912,13.305),(0.970,13.277),(1.113,13.254),(1.168,13.300),
    (1.006,13.317),(1.018,13.345),(1.024,13.357),(1.079,13.345),(1.092,13.363),(1.106,13.385),
    (0.942,13.357),(0.934,13.431),(0.952,13.448),(0.966,13.420),(1.119,13.477),(1.040,13.448),
    (1.061,13.460),(0.995,13.505),(1.029,13.500),(1.027,13.528),(1.033,13.545),(1.192,13.614),
]

SERIES_NAMES = ["2MASS", "our RC", "APOGEE RC"]
X_TICK_VALUES = [0.0, 0.5, 1.0, 1.5]
X_TICK_TEXT = ["0.0", "0.5", "1.0", "1.5"]
Y_TICK_VALUES = [9, 10, 11, 12, 13, 14]
X_RANGE = [-0.0485, 1.8145]
Y_RANGE = [14.5, 9.0]
FIELD_LABEL = "<i>ℓ</i> = 251<sup>∘</sup>, <i>b</i> = 0<sup>∘</sup>"

# ---------------- geometry helpers (pixel -> paper) ----------------
W, H = 1659, 1853
ML, MR, MT, MB = 196, 91, 85, 165
PW, PH = W - ML - MR, H - MT - MB


def px(xp):
    return (xp - ML) / PW


def py(yp):
    return 1 - (yp - MT) / PH


# the tick marks of the original frame follow their own spacing
TICK_AX_RANGE = [0.31405, 0.31405 + PW / 684.6]

TICK_FONT = dict(family="DejaVu Sans Condensed, DejaVu Sans", size=63, color="#1a1a1a")
AX_COLOR = "#2a2a2a"

fig = go.Figure()

fig.add_trace(go.Scatter(
    x=[p[0] for p in GRAY_2MASS], y=[p[1] for p in GRAY_2MASS],
    mode="markers", name=SERIES_NAMES[0], legendgroup="g1",
    marker=dict(color="#828282", size=6.5, line=dict(width=0)),
))
fig.add_trace(go.Scatter(
    x=[p[0] for p in RED_RC], y=[p[1] for p in RED_RC],
    mode="markers", name=SERIES_NAMES[1], legendgroup="g2",
    marker=dict(color="#ff0000", size=12, line=dict(width=0)),
))
fig.add_trace(go.Scatter(
    x=[p[0] for p in BLUE_APOGEE], y=[p[1] for p in BLUE_APOGEE],
    mode="markers", name=SERIES_NAMES[2], legendgroup="g3",
    marker=dict(symbol="circle-open", color="rgba(0,0,255,0.72)", size=16,
                line=dict(width=4)),
))
# empty trace that carries the frame's tick axis
fig.add_trace(go.Scatter(x=[], y=[], xaxis="x2", yaxis="y", showlegend=False,
                         hoverinfo="skip", mode="markers"))

fig.update_layout(
    width=W, height=H,
    margin=dict(l=ML, r=MR, t=MT, b=MB, autoexpand=False),
    paper_bgcolor="#dde3e3",
    plot_bgcolor="white",
    showlegend=True,
    xaxis=dict(
        range=X_RANGE, tickmode="array", tickvals=X_TICK_VALUES, ticktext=X_TICK_TEXT,
        ticks="", showgrid=False, zeroline=False,
        showline=True, linewidth=3, linecolor=AX_COLOR, mirror=True,
        tickfont=TICK_FONT, ticklabelstandoff=-17,
        title=dict(text="J−<i>K</i><sub><i>s</i></sub>", font=TICK_FONT, standoff=68),
    ),
    xaxis2=dict(
        overlaying="x", anchor="y", side="bottom", range=TICK_AX_RANGE,
        showticklabels=False, showgrid=False, zeroline=False, showline=False,
        ticks="inside", tick0=0, dtick=0.5, ticklen=30, tickwidth=3, tickcolor=AX_COLOR,
        mirror="ticks",
        minor=dict(ticks="inside", dtick=0.1, tick0=0, ticklen=19, tickwidth=3,
                   tickcolor=AX_COLOR, showgrid=False),
    ),
    yaxis=dict(
        range=Y_RANGE, tickmode="array", tickvals=Y_TICK_VALUES,
        ticks="inside", ticklen=29, tickwidth=3, tickcolor=AX_COLOR,
        minor=dict(ticks="inside", dtick=0.2, tick0=9, ticklen=19, tickwidth=3,
                   tickcolor=AX_COLOR, showgrid=False),
        showgrid=False, zeroline=False,
        showline=True, linewidth=3, linecolor=AX_COLOR, mirror="ticks",
        tickfont=TICK_FONT, ticklabelstandoff=-6,
        title=dict(text="J", font=TICK_FONT, standoff=0),
    ),
    legend=dict(
        x=px(227), y=py(116), xanchor="left", yanchor="top",
        bgcolor="rgba(255,255,255,0.82)", bordercolor="#d6d6d6", borderwidth=2,
        font=dict(family="DejaVu Sans Condensed, DejaVu Sans", size=66, color="#111111"),
        itemwidth=156, indentation=21, tracegroupgap=15, itemsizing="trace",
    ),
    annotations=[dict(
        text=FIELD_LABEL, xref="paper", yref="paper", x=px(1280), y=py(165),
        xanchor="center", yanchor="middle", showarrow=False,
        font=dict(family="Liberation Serif, DejaVu Serif", size=62, color="#111111"),
    )],
    shapes=[
        dict(type="rect", xref="paper", yref="paper", layer="below",
             x0=px(17), x1=px(W), y0=py(1718), y1=py(9.5),
             fillcolor="white", line=dict(width=0)),
        dict(type="rect", xref="paper", yref="paper", layer="below",
             x0=px(21), x1=px(W), y0=py(H), y1=py(1718),
             fillcolor="white", line=dict(width=0)),
    ],
)

fig.write_html("out.html")
